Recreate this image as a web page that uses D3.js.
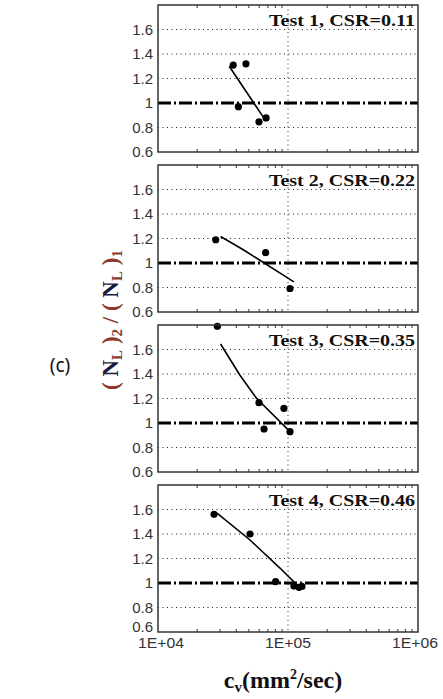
<!DOCTYPE html>
<html><head><meta charset="utf-8">
<script src="https://cdn.jsdelivr.net/npm/d3@7"></script>
<style>body{margin:0;background:#fff}svg{display:block}</style>
</head><body>
<script>
// ---- data ----
const panelTitles = ["Test 1, CSR=0.11", "Test 2, CSR=0.22", "Test 3, CSR=0.35", "Test 4, CSR=0.46"];
const ptsX1 = [37900, 47500, 41500, 59800, 67800];
const ptsY1 = [1.31, 1.32, 0.97, 0.846, 0.878];
const ptsX2 = [27800, 67300, 103600];
const ptsY2 = [1.19, 1.084, 0.792];
const ptsX3 = [28600, 59800, 93000, 65400, 103600];
const ptsY3 = [1.79, 1.166, 1.12, 0.951, 0.929];
const ptsX4 = [27000, 51000, 80300, 111000, 121600, 128000];
const ptsY4 = [1.561, 1.40, 1.011, 0.975, 0.965, 0.972];
const fitX1 = [35300, 66500];
const fitY1 = [1.30, 0.864];
const fitX2 = [30300, 45300, 111000];
const fitY2 = [1.216, 1.108, 0.846];
const fitX3 = [30300, 42700, 57400, 103600];
const fitY3 = [1.645, 1.39, 1.20, 0.93];
const fitX4 = [28600, 51000, 86700, 123600];
const fitY4 = [1.569, 1.351, 1.122, 0.96];
const yTicks = [0.6, 0.8, 1, 1.2, 1.4, 1.6];
const yTickLabels = ["0.6", "0.8", "1", "1.2", "1.4", "1.6"];
const xTicks = [1e4, 1e5, 1e6];
const xTickLabels = ["1E+04", "1E+05", "1E+06"];
const refLine = 1;

const panels = [
  {title: panelTitles[0], px: ptsX1, py: ptsY1, fx: fitX1, fy: fitY1},
  {title: panelTitles[1], px: ptsX2, py: ptsY2, fx: fitX2, fy: fitY2},
  {title: panelTitles[2], px: ptsX3, py: ptsY3, fx: fitX3, fy: fitY3},
  {title: panelTitles[3], px: ptsX4, py: ptsY4, fx: fitX4, fy: fitY4}
];

const W = 443, H = 699;
const L = 158, R = 418, top0 = 5, step = 160, ph = 147;

const svg = d3.select("body").append("svg").attr("width", W).attr("height", H);
const x = d3.scaleLog().domain([1e4, 1e6]).range([L, R]);
const minor = [];
[1e4, 1e5].forEach(d => { for (let k = 2; k <= 9; k++) minor.push(d * k); });

panels.forEach((p, i) => {
  const t = top0 + i * step, b = t + ph;
  const y = d3.scaleLinear().domain([0.6, 1.8]).range([b, t]);
  const g = svg.append("g");
  g.selectAll(".hg").data(yTicks.filter(v => v !== 0.6 && v !== refLine)).enter().append("line")
    .attr("x1", L).attr("x2", R).attr("y1", d => y(d)).attr("y2", d => y(d))
    .attr("stroke", "#222").attr("stroke-width", 1).attr("stroke-dasharray", "1,3.5");
  g.append("line").attr("x1", x(1e5)).attr("x2", x(1e5)).attr("y1", t).attr("y2", b)
    .attr("stroke", "#222").attr("stroke-width", 1).attr("stroke-dasharray", "1,3.5");
  g.selectAll(".mtb").data(minor).enter().append("line")
    .attr("x1", d => x(d)).attr("x2", d => x(d)).attr("y1", b).attr("y2", b - 3)
    .attr("stroke", "#333").attr("stroke-width", 1);
  g.selectAll(".mtt").data(minor).enter().append("line")
    .attr("x1", d => x(d)).attr("x2", d => x(d)).attr("y1", t).attr("y2", t + 3)
    .attr("stroke", "#333").attr("stroke-width", 1);
  g.append("line").attr("x1", L).attr("x2", R).attr("y1", y(refLine)).attr("y2", y(refLine))
    .attr("stroke", "#000").attr("stroke-width", 2.8).attr("stroke-dasharray", "13,3,2,3");
  const line = d3.line().x((d, k) => x(p.fx[k])).y((d, k) => y(p.fy[k]));
  g.append("path").datum(p.fx).attr("d", line).attr("fill", "none")
    .attr("stroke", "#000").attr("stroke-width", 1.6).attr("stroke-linejoin", "round");
  g.selectAll(".pt").data(p.px).enter().append("circle")
    .attr("cx", d => x(d)).attr("cy", (d, k) => y(p.py[k])).attr("r", 3.6).attr("fill", "#000");
  g.append("rect").attr("x", L).attr("y", t).attr("width", R - L).attr("height", ph)
    .attr("fill", "none").attr("stroke", "#333").attr("stroke-width", 1.5);
  g.selectAll(".yl").data(yTicks).enter().append("text")
    .attr("x", 153).attr("y", d => y(d) - (i === 3 && d === 0.6 ? 5 : 0)).attr("dy", "0.36em").attr("text-anchor", "end")
    .attr("font-family", "Liberation Sans, Arial, sans-serif").attr("font-size", 15).attr("fill", "#333")
    .text((d, k) => yTickLabels[k]);
  g.append("text").attr("x", 415).attr("y", t + 21).attr("text-anchor", "end")
    .attr("font-family", "Liberation Serif, Times New Roman, serif").attr("font-weight", "bold")
    .attr("font-size", 17).attr("fill", "#111")
    .attr("textLength", 146).attr("lengthAdjust", "spacingAndGlyphs").text(p.title);
});

svg.selectAll(".xl").data(xTicks).enter().append("text")
  .attr("x", (d, k) => x(d) + (k === 0 ? 3 : k === 2 ? -3 : 0)).attr("y", 648).attr("text-anchor", "middle")
  .attr("font-family", "Liberation Sans, Arial, sans-serif").attr("font-size", 14).attr("fill", "#333")
  .attr("textLength", 46).attr("lengthAdjust", "spacingAndGlyphs")
  .text((d, k) => xTickLabels[k]);

const xt = svg.append("text").attr("x", 283).attr("y", 688).attr("text-anchor", "middle")
  .attr("font-family", "Liberation Serif, Times New Roman, serif").attr("font-weight", "bold")
  .attr("font-size", 24).attr("fill", "#111");
xt.append("tspan").text("c");
xt.append("tspan").attr("font-size", 15).attr("dy", 4).text("v");
xt.append("tspan").attr("dy", -4).text("(mm");
xt.append("tspan").attr("font-size", 14).attr("dy", -9).text("2");
xt.append("tspan").attr("dy", 9).text("/sec)");

const brown = "#8a3a2a", navy = "#1a1a40";
const yt = svg.append("text").attr("transform", "translate(118,320) rotate(-90)").attr("text-anchor", "middle")
  .attr("font-family", "Liberation Serif, Times New Roman, serif").attr("font-weight", "bold")
  .attr("font-size", 23);
yt.append("tspan").attr("fill", brown).text("( ");
yt.append("tspan").attr("fill", navy).text("N");
yt.append("tspan").attr("fill", brown).attr("font-size", 15).attr("dy", 4).text("L");
yt.append("tspan").attr("fill", brown).attr("dy", -4).text(" )");
yt.append("tspan").attr("fill", brown).attr("font-size", 15).attr("dy", 4).text("2");
yt.append("tspan").attr("fill", brown).attr("dy", -4).text(" / ( ");
yt.append("tspan").attr("fill", navy).text("N");
yt.append("tspan").attr("fill", brown).attr("font-size", 15).attr("dy", 4).text("L");
yt.append("tspan").attr("fill", brown).attr("dy", -4).text(" )");
yt.append("tspan").attr("fill", brown).attr("font-size", 15).attr("dy", 4).text("1");

svg.append("text").attr("x", 60).attr("y", 372).attr("text-anchor", "middle")
  .attr("font-family", "Noto Sans, sans-serif").attr("font-size", 19).attr("fill", "#111").text("(c)");
</script>
</body></html>
